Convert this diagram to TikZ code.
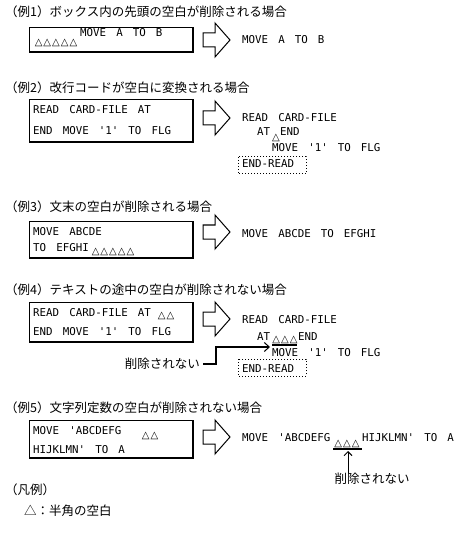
\documentclass[tikz,border=0pt]{standalone}
\usepackage{fontspec}
\usetikzlibrary{arrows.meta}
\newfontfamily\jpfont{Noto Sans CJK JP}
\newfontfamily\trifont[LetterSpace=10]{DejaVu Sans Bold}
\newfontfamily\codefont[WordSpace=1.55]{DejaVu Sans Mono}

% box with thick right and bottom edge: top, bottom
\newcommand{\codebox}[2]{%
  \draw[boxline] (29,#1) rectangle (193,#2);
  \draw[boxshade] (193,#1) -- (193,#2) -- (29,#2);}
% outline block arrow, left end at x=203: centre y
\newcommand{\bigarrow}[1]{%
  \draw[boxline] (203,#1) ++(0,-7) -- ++(12,0) -- ++(0,-10) -- ++(15,17)
    -- ++(-15,17) -- ++(0,-10) -- ++(-12,0) -- cycle;}

\begin{document}
\begin{tikzpicture}[x=1pt, y=-1pt, every node/.style={inner sep=0pt},
  heading/.style={anchor=west, font=\jpfont\fontsize{12.5}{14}\selectfont},
  jp/.style={font=\jpfont\fontsize{12.5}{14}\selectfont},
  codetxt/.style={anchor=base west, font=\codefont\fontsize{10.8}{12}\selectfont},
  spaces/.style={font=\trifont\fontsize{10}{10}\selectfont},
  boxline/.style={line width=1pt},
  boxshade/.style={line width=2pt},
  dots/.style={line width=1pt, dash pattern=on 1pt off 2pt},
  ptr/.style={line width=2pt, -{Straight Barb[length=5pt, width=9pt, line width=1pt]}},
  uparrow/.style={line width=1pt, -{Straight Barb[length=4pt, width=8pt]}}]
\useasboundingbox (0,0) rectangle (469,534);

% (1)
\node[heading] (t1) at (5,12) {（例1）ボックス内の先頭の空白が削除される場合};
\codebox{28}{52}
\node[spaces] (s1) at (56,43) {△△△△△};
\node[codetxt] (c1) at (80,37) {MOVE A TO B};
\bigarrow{40}
\node[codetxt] (r1) at (242,44) {MOVE A TO B};

% (2)
\node[heading] (t2) at (5,88) {（例2）改行コードが空白に変換される場合};
\codebox{100}{142}
\node[codetxt] (c2a) at (33,114) {READ CARD-FILE AT};
\node[codetxt] (c2b) at (33,135) {END MOVE '1' TO FLG};
\bigarrow{118}
\node[codetxt] (r2a) at (242,122) {READ CARD-FILE};
\node[codetxt] (r2b) at (257,136) {AT};
\node[spaces] (s2) at (276,138) {△};
\node[codetxt] (r2c) at (280,136) {END};
\node[codetxt] (r2d) at (272,152) {MOVE '1' TO FLG};
\node[codetxt] (r2e) at (242,168) {END-READ};
\draw[dots] (238,157) rectangle (306,174);

% (3)
\node[heading] (t3) at (5,207) {（例3）文末の空白が削除される場合};
\codebox{222}{258}
\node[codetxt] (c3a) at (33,235) {MOVE ABCDE};
\node[codetxt] (c3b) at (33,251) {TO EFGHI};
\node[spaces] (s3) at (113,252) {△△△△△};
\bigarrow{232}
\node[codetxt] (r3) at (242,237) {MOVE ABCDE TO EFGHI};

% (4)
\node[heading] (t4) at (5,290) {（例4）テキストの途中の空白が削除されない場合};
\codebox{302}{342}
\node[codetxt] (c4a) at (33,316) {READ CARD-FILE AT};
\node[spaces] (s4a) at (166,316) {△△};
\node[codetxt] (c4b) at (33,335) {END MOVE '1' TO FLG};
\bigarrow{319}
\node[codetxt] (r4a) at (242,323) {READ CARD-FILE};
\node[codetxt] (r4b) at (257,340) {AT};
\node[spaces] (s4b) at (285,340) {△△△};
\node[codetxt] (r4c) at (298,340) {END};
\node[codetxt] (r4d) at (272,356) {MOVE '1' TO FLG};
\node[codetxt] (r4e) at (242,372) {END-READ};
\draw[dots] (238,359) rectangle (306,376);
\draw[boxshade] (272,344.5) -- (297,344.5);
\node[jp, anchor=east] (n4) at (200,364) {削除されない};
\coordinate (p4) at (270,347);
\draw[ptr] ([xshift=3pt]n4.east) -| (216,347) -- (p4);

% (5)
\node[heading] (t5) at (5,408) {（例5）文字列定数の空白が削除されない場合};
\codebox{420}{458}
\node[codetxt] (c5a) at (33,434) {MOVE 'ABCDEFG};
\node[spaces] (s5a) at (150,436) {△△};
\node[codetxt] (c5b) at (33,453) {HIJKLMN' TO A};
\bigarrow{437}
\node[codetxt] (r5a) at (242,441) {MOVE 'ABCDEFG};
\node[spaces] (s5b) at (347,444) {△△△};
\draw[boxshade] (333,448.5) -- (362,448.5);
\node[codetxt] (r5b) at (362,441) {HIJKLMN' TO A};
\node[jp] (n5) at (372,479) {削除されない};
\coordinate (p5) at (348,451);
\draw[uparrow] (n5.north -| p5) -- (p5);

% legend
\node[heading] (t6) at (5,490) {（凡例）};
\node[jp, anchor=west] (t7) at (24,511) {△：半角の空白};
\end{tikzpicture}
\end{document}
